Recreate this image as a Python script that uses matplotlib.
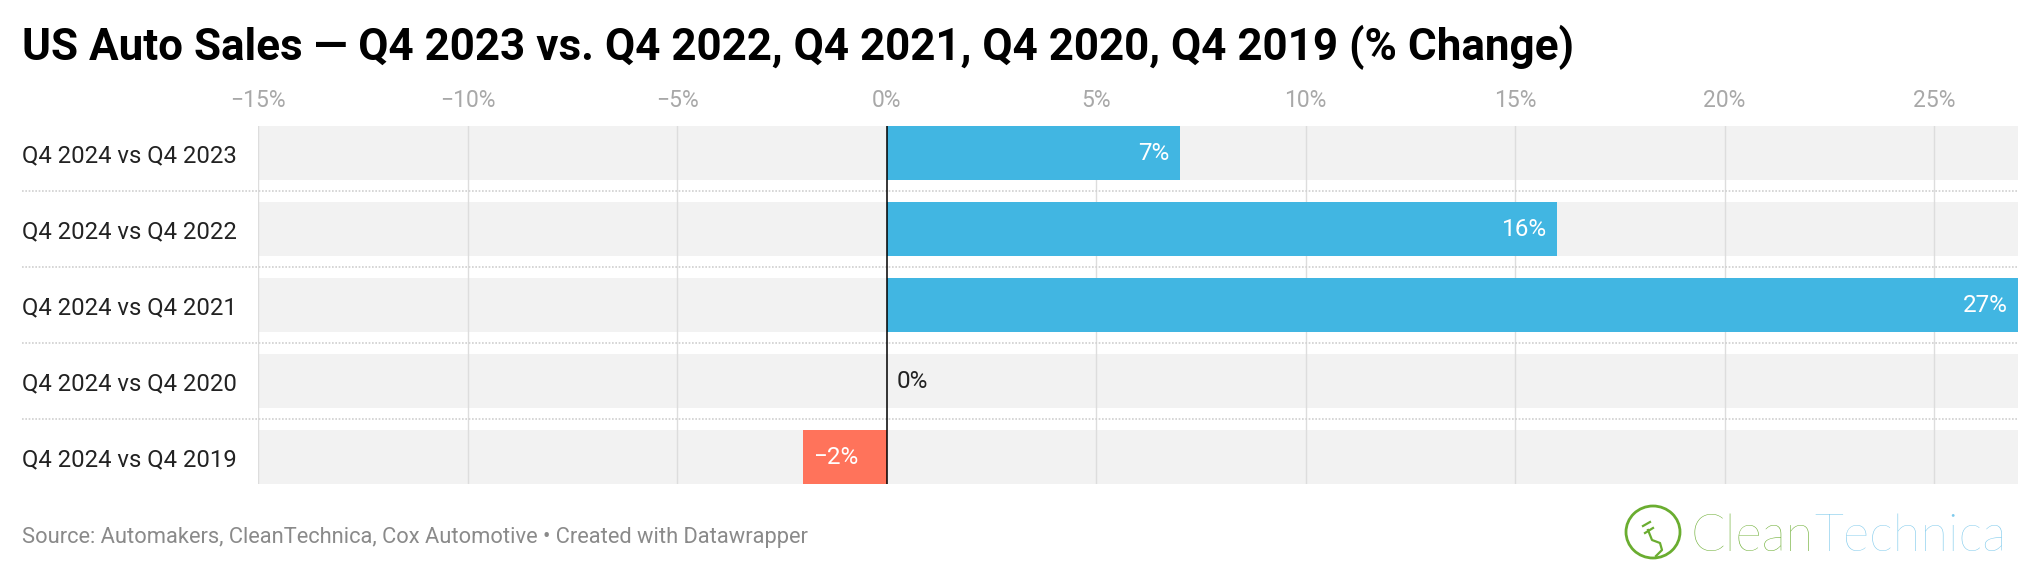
import matplotlib
matplotlib.use("Agg")
import matplotlib.pyplot as plt
from matplotlib import transforms
from matplotlib.lines import Line2D
from matplotlib.patches import Ellipse

# ---- data ----
categories = ["Q4 2024 vs Q4 2023", "Q4 2024 vs Q4 2022", "Q4 2024 vs Q4 2021",
              "Q4 2024 vs Q4 2020", "Q4 2024 vs Q4 2019"]
values = [7, 16, 27, 0, -2]
xticks = [-15, -10, -5, 0, 5, 10, 15, 20, 25]
xtick_labels = ["\u221215%", "\u221210%", "\u22125%", "0%", "5%", "10%", "15%", "20%", "25%"]
title = "US Auto Sales \u2014 Q4 2023 vs. Q4 2022, Q4 2021, Q4 2020, Q4 2019 (% Change)"
source = "Source: Automakers, CleanTechnica, Cox Automotive \u2022 Created with Datawrapper"

BLUE = "#41b6e2"
RED = "#ff735b"
BG = "#f2f2f2"
GRID = "#dddddd"

plt.rcParams["font.family"] = ["Roboto", "DejaVu Sans"]

W, H = 2040, 570
fig = plt.figure(figsize=(W / 100, H / 100), dpi=100)

def fx(px):
    return px / W

def fy(py):
    return 1 - py / H

left, right, top, bottom = 258, 2018, 126, 484
ax = fig.add_axes([fx(left), fy(bottom), fx(right - left), (bottom - top) / H])

n = len(categories)
bh = 54 / 76
xmin, xmax = -15, 27
ax.set_xlim(xmin, xmax)
ax.set_ylim(n - 1 + bh / 2, -bh / 2)

ypos = list(range(n))
# background rows
ax.barh(ypos, [xmax - xmin] * n, left=xmin, height=bh, color=BG, zorder=0)
# grid
for t in xticks:
    if t != 0:
        ax.axvline(t, color=GRID, lw=1.0, zorder=1)
# bars
colors = [BLUE if v >= 0 else RED for v in values]
ax.barh(ypos, values, height=bh, color=colors, zorder=2)
ax.axvline(0, color="black", lw=1.1, zorder=3)

# value labels
VFS = 17.5
for y, v in zip(ypos, values):
    txt = ("\u2212" if v < 0 else "") + f"{abs(v)}%"
    if v > 0:
        ax.annotate(txt, (v, y), xytext=(-7.5, 0), textcoords="offset points",
                    ha="right", va="center", color="white", fontsize=VFS, zorder=4)
    elif v < 0:
        ax.annotate(txt, (v, y), xytext=(7.5, 0), textcoords="offset points",
                    ha="left", va="center", color="white", fontsize=VFS, zorder=4)
    else:
        ax.annotate(txt, (v, y), xytext=(7, 0), textcoords="offset points",
                    ha="left", va="center", color="#222222", fontsize=VFS, zorder=4)

# separators (dotted) spanning from labels to right edge
blend = transforms.blended_transform_factory(fig.transFigure, ax.transData)
for i in range(n - 1):
    yy = i + 0.5
    ax.add_line(Line2D([fx(22), fx(right)], [yy, yy], transform=blend, color="#d0d0d0",
                       lw=1.2, linestyle=(0, (1, 1)), clip_on=False, zorder=1))

# axes styling
for s in ax.spines.values():
    s.set_visible(False)
ax.xaxis.tick_top()
ax.set_xticks(xticks)
ax.set_xticklabels(xtick_labels)
ax.tick_params(axis="x", length=0, pad=10, labelsize=16.5, labelcolor="#a8a8a8")
ax.set_yticks(ypos)
ax.set_yticklabels(categories)
ax.tick_params(axis="y", length=0, pad=(left - 22) * 0.72, labelsize=17.2, labelcolor="#222222")
for lbl in ax.get_yticklabels():
    lbl.set_horizontalalignment("left")

# title & footer
fig.text(fx(22), fy(60), title, fontsize=31.7, fontweight="bold", color="black",
         ha="left", va="baseline")
fig.text(fx(22), fy(537), source, fontsize=15.75, color="#8a8a8a", ha="left", va="center")

# logo
ov = fig.add_axes([0, 0, 1, 1], zorder=-1)
ov.set_xlim(0, W)
ov.set_ylim(H, 0)
ov.axis("off")
GREEN = "#6aad30"
LBLUE = "#7fcaec"
ov.add_patch(Ellipse((1653, 532), 54, 52, fill=False, edgecolor=GREEN, lw=2))
ov.plot([1648, 1652, 1660, 1662, 1656], [530, 540, 543, 550, 556], color=GREEN, lw=1.6)
ov.plot([1643, 1650], [526, 522], color=GREEN, lw=1.6)
ov.plot([1645, 1653], [533, 528], color=GREEN, lw=1.6)
LFS = 36.5
t1 = ov.text(1691, 551, "Clean", fontsize=LFS, color=GREEN, family=["Lato", "DejaVu Sans"],
             fontweight="light", ha="left", va="baseline")
fig.canvas.draw()
bb = t1.get_window_extent()
inv = ov.transData.inverted()
x_end = inv.transform((bb.x1, bb.y0))[0]
ov.text(x_end, 551, "Technica", fontsize=LFS, color=LBLUE, family=["Lato", "DejaVu Sans"],
        fontweight="light", ha="left", va="baseline")

fig.savefig("out.png", dpi=100, facecolor="white")
